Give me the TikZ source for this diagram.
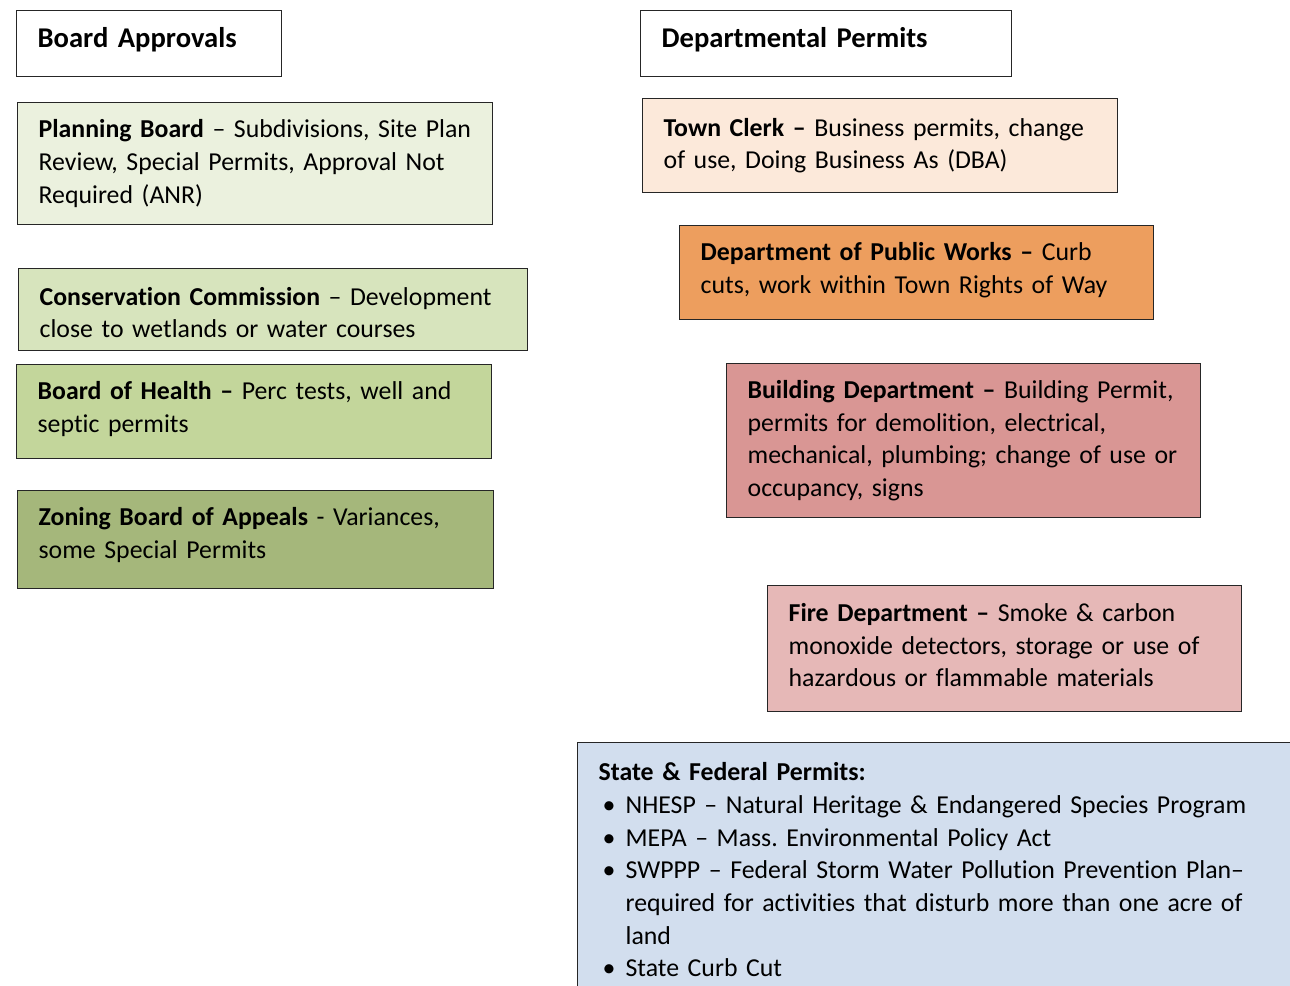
\documentclass[tikz,border=0pt]{standalone}
\usepackage{fontspec}
\setmainfont{Carlito}[Ligatures={TeX,NoCommon}]
\definecolor{cPlan}{HTML}{EBF1DE}
\definecolor{cCons}{HTML}{D7E4BD}
\definecolor{cHealth}{HTML}{C3D69B}
\definecolor{cZone}{HTML}{A5B77B}
\definecolor{cClerk}{HTML}{FCE9DA}
\definecolor{cDPW}{HTML}{ED9E5E}
\definecolor{cBuild}{HTML}{D99694}
\definecolor{cFire}{HTML}{E6B8B7}
\definecolor{cState}{HTML}{D2DEEE}
\definecolor{cEdge}{HTML}{262626}
\newcommand\bodyfnt{\fontsize{25.8}{32.7}\selectfont\frenchspacing}
\newcommand\headfnt{\fontsize{28.6}{33}\selectfont\bfseries}
\newcommand\lineof[1]{\mbox{#1}}
\newcommand\bul{\hspace*{4pt}\makebox[23pt][l]{\textbullet}}
\newcommand\dep[1]{\rule[-#1]{0pt}{#1}}
\newcommand\hgt[1]{\rule{0pt}{#1}}
\begin{document}
\begin{tikzpicture}[x=1pt,y=-1pt,
  box/.style={draw=cEdge, line width=1.3pt, rectangle, anchor=north west,
    inner xsep=21pt, inner ysep=0pt, align=left, font=\bodyfnt},
  headbox/.style={draw=cEdge, line width=1.3pt, fill=white, rectangle, anchor=north west,
    inner xsep=21pt, inner ysep=0pt, align=left, font=\headfnt}]
\clip (0,0) rectangle (1290,985);
\fill[white] (0,0) rectangle (1290,985);

% headers
\node[headbox, text width=223pt, minimum height=66pt] (ba) at (16,10) {Board Approvals\dep{12pt}};
\node[headbox, text width=329pt, minimum height=66pt] (dp) at (640,10) {Departmental Permits\dep{12pt}};

% board approvals column
\node[box, fill=cPlan, text width=433pt, minimum height=122pt] (pb) at (17,102)
 {\lineof{\textbf{Planning Board} \textendash{} Subdivisions, Site Plan}\\
  \lineof{Review, Special Permits, Approval Not}\\
  \lineof{Required (ANR)}};
\node[box, fill=cCons, text width=467pt, minimum height=82pt] (cc) at (18,268)
 {\lineof{\hgt{24pt}\textbf{Conservation Commission} \textendash{} Development}\\
  \lineof{close to wetlands or water courses}};
\node[box, fill=cHealth, text width=433pt, minimum height=94pt] (bh) at (16,364)
 {\lineof{\textbf{Board of Health \textendash{}} Perc tests, well and}\\
  \lineof{septic permits\dep{10pt}}};
\node[box, fill=cZone, text width=434pt, minimum height=98pt] (zb) at (17,490)
 {\lineof{\textbf{Zoning Board of Appeals} - Variances,}\\
  \lineof{some Special Permits\dep{14pt}}};

% departmental column
\node[box, fill=cClerk, text width=433pt, minimum height=94pt] (tc) at (642,98)
 {\lineof{\textbf{Town Clerk \textendash{}} Business permits, change}\\
  \lineof{of use, Doing Business As (DBA)}};
\node[box, fill=cDPW, text width=432pt, minimum height=94pt] (pw) at (679,225)
 {\lineof{\textbf{Department of Public Works \textendash{}} Curb}\\
  \lineof{cuts, work within Town Rights of Way\dep{9pt}}};
\node[box, fill=cBuild, text width=432pt, minimum height=154pt] (bd) at (726,363)
 {\lineof{\textbf{Building Department \textendash{}} Building Permit,}\\
  \lineof{permits for demolition, electrical,}\\
  \lineof{mechanical, plumbing; change of use or}\\
  \lineof{occupancy, signs}};
\node[box, fill=cFire, text width=432pt, minimum height=126pt] (fd) at (767,585)
 {\lineof{\textbf{Fire Department \textendash{}} Smoke \& carbon}\\
  \lineof{monoxide detectors, storage or use of}\\
  \lineof{hazardous or flammable materials\dep{7pt}}};

% state & federal
\node[box, fill=cState, text width=700pt, inner ysep=20pt] (sf) at (577,742)
 {\lineof{\textbf{State \& Federal Permits:}}\\
  \lineof{\bul NHESP \textendash{} Natural Heritage \& Endangered Species Program}\\
  \lineof{\bul MEPA \textendash{} Mass. Environmental Policy Act}\\
  \lineof{\bul SWPPP \textendash{} Federal Storm Water Pollution Prevention Plan\textendash}\\
  \lineof{\hspace*{27pt}required for activities that disturb more than one acre of}\\
  \lineof{\hspace*{27pt}land}\\
  \lineof{\bul State Curb Cut}};
\end{tikzpicture}
\end{document}
